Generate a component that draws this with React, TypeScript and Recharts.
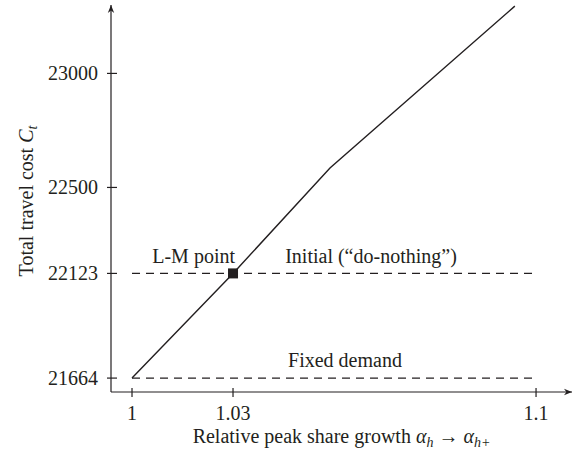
import { LineChart, Line, XAxis, YAxis, ReferenceLine, ReferenceDot } from 'recharts';

// schematic x axis: positions along the axis, labelled with the growth factor
const xTickLabels = ['1', '1.03', '1.1'];
const xTickPositions = [0, 1, 4];

const curvePositions = [0, 1, 1.96, 3.79];
const curveCosts = [21664, 22123, 22585, 23295];

const yTicks = [21664, 22123, 22500, 23000];

const fixedDemandCost = 21664;
const initialCost = 22123;
const lmPosition = 1;
const lineStart = 0;
const lineEnd = 4;

const INK = '#231f20';
const FONT = '"Liberation Serif", "Times New Roman", serif';
const FS = 20;

const data = curvePositions.map((x, i) => ({ x, cost: curveCosts[i] }));

const XTick = ({ x, y, payload }: any) => {
  const idx = xTickPositions.indexOf(payload.value);
  return (
    <g>
      <line x1={x} x2={x} y1={y - 4} y2={y + 5} stroke={INK} strokeWidth={1.2} />
      <text x={x} y={y + 28} textAnchor="middle" fill={INK} fontSize={FS} fontFamily={FONT}>
        {xTickLabels[idx]}
      </text>
    </g>
  );
};

const YTick = ({ x, y, payload }: any) => (
  <g>
    <line x1={x - 4} x2={x + 6} y1={y} y2={y} stroke={INK} strokeWidth={1.2} />
    <text x={x - 13} y={y + 7} textAnchor="end" fill={INK} fontSize={FS} fontFamily={FONT}>
      {payload.value}
    </text>
  </g>
);

const XTitle = ({ viewBox }: any) => (
  <text
    x={viewBox.x + viewBox.width / 2}
    y={443}
    textAnchor="middle"
    fill={INK}
    fontSize={FS}
    fontFamily={FONT}
  >
    Relative peak share growth <tspan fontStyle="italic">α</tspan>
    <tspan fontStyle="italic" fontSize={14} dy={4}>h</tspan>
    <tspan dy={-4}> → </tspan>
    <tspan fontStyle="italic">α</tspan>
    <tspan fontStyle="italic" fontSize={14} dy={4}>h+</tspan>
  </text>
);

const YTitle = () => (
  <text
    x={0}
    y={0}
    transform="translate(33, 201) rotate(-90)"
    textAnchor="middle"
    fill={INK}
    fontSize={FS}
    fontFamily={FONT}
  >
    Total travel cost <tspan fontStyle="italic">C</tspan>
    <tspan fontStyle="italic" fontSize={14} dy={4}>t</tspan>
  </text>
);

const textLabel = (value: string, dx: number, dy: number, anchor: string) => ({ viewBox }: any) => (
  <text
    x={viewBox.x + dx}
    y={viewBox.y + dy}
    textAnchor={anchor}
    fill={INK}
    fontSize={FS}
    fontFamily={FONT}
  >
    {value}
  </text>
);

export default function App() {
  return (
    <div style={{ position: 'absolute', left: 0, top: 0, background: '#fff' }}>
      <LineChart
        width={579}
        height={457}
        data={data}
        margin={{ top: 5, right: 7, bottom: 0, left: 0 }}
      >
        <defs>
          <marker
            id="arrowHead"
            viewBox="0 0 10 10"
            refX={10}
            refY={5}
            markerWidth={8}
            markerHeight={8}
            markerUnits="userSpaceOnUse"
            orient="auto-start-reverse"
          >
            <path d="M0,1 L10,5 L0,9 L3,5 Z" fill={INK} />
          </marker>
        </defs>
        <XAxis
          dataKey="x"
          type="number"
          domain={[-0.208, 4.356]}
          ticks={xTickPositions}
          interval={0}
          allowDataOverflow
          height={65}
          tickSize={0}
          tickMargin={0}
          tickLine={false}
          axisLine={{ stroke: INK, strokeWidth: 1.2, markerEnd: 'url(#arrowHead)' }}
          tick={XTick}
          label={XTitle}
        />
        <YAxis
          type="number"
          domain={[21603, 23300]}
          ticks={yTicks}
          interval={0}
          allowDataOverflow
          width={111}
          tickSize={0}
          tickMargin={0}
          tickLine={false}
          axisLine={{ stroke: INK, strokeWidth: 1.2, markerStart: 'url(#arrowHead)' }}
          tick={YTick}
          label={YTitle}
        />
        <ReferenceLine
          segment={[
            { x: lineStart, y: initialCost },
            { x: lineEnd, y: initialCost },
          ]}
          stroke={INK}
          strokeWidth={1.2}
          strokeDasharray="8 6"
          label={textLabel('Initial (“do-nothing”)', 239, -10, 'middle')}
        />
        <ReferenceLine
          segment={[
            { x: lineStart, y: fixedDemandCost },
            { x: lineEnd, y: fixedDemandCost },
          ]}
          stroke={INK}
          strokeWidth={1.2}
          strokeDasharray="8 6"
          label={textLabel('Fixed demand', 213, -11, 'middle')}
        />
        <Line
          type="linear"
          dataKey="cost"
          stroke={INK}
          strokeWidth={1.4}
          dot={false}
          isAnimationActive={false}
        />
        <ReferenceDot
          x={lmPosition}
          y={initialCost}
          r={5}
          shape={(p: any) => <rect x={p.cx - 5} y={p.cy - 5} width={10} height={10} fill={INK} />}
          label={textLabel('L-M point', 7, -5, 'end')}
        />
      </LineChart>
    </div>
  );
}
